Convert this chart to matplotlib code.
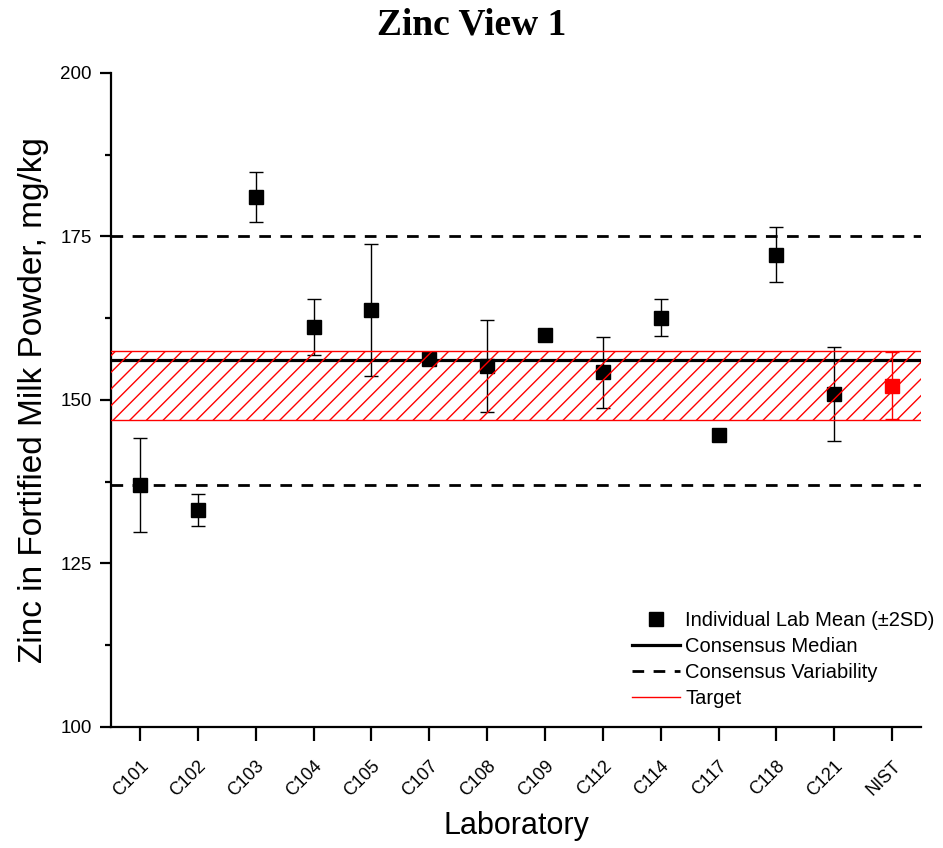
import matplotlib
matplotlib.use("Agg")
import matplotlib.pyplot as plt
from matplotlib.lines import Line2D
from matplotlib.ticker import MultipleLocator

labs = ["C101", "C102", "C103", "C104", "C105", "C107", "C108",
        "C109", "C112", "C114", "C117", "C118", "C121"]
lab_means = [137.0, 133.2, 181.0, 161.2, 163.8, 156.3, 155.2,
             159.9, 154.2, 162.6, 144.6, 172.2, 150.9]
lab_2sd = [7.2, 2.4, 3.8, 4.3, 10.1, 0.0, 7.0,
           0.0, 5.5, 2.8, 0.0, 4.2, 7.2]

nist_label = "NIST"
nist_value = 152.2
nist_2sd = 5.1
target_low = 146.9
target_high = 157.5

consensus_median = 156.1
consensus_low = 137.0
consensus_high = 175.0

fig = plt.figure(figsize=(9.43, 8.48), dpi=100)
ax = fig.add_axes([0.1177, 0.1427, 0.859, 0.7713])

x = list(range(len(labs)))
x_nist = len(labs)

# consensus lines
ax.axhline(consensus_median, color="black", lw=2.3, zorder=2)
for v in (consensus_low, consensus_high):
    ax.axhline(v, color="black", lw=2.0, ls=(0, (4.2, 3.4)), zorder=2)

# lab means with error bars
ax.errorbar(x, lab_means, yerr=lab_2sd, fmt="s", color="black",
            ms=10, elinewidth=1.0, capsize=5, capthick=1.0, zorder=3)
ax.errorbar([x_nist], [nist_value], yerr=[nist_2sd], fmt="s", color="red",
            ms=10, elinewidth=1.0, capsize=5, capthick=1.0, zorder=3)

# target band
ax.fill_between([-0.5, 13.5], target_low, target_high, facecolor="none",
                edgecolor="red", hatch="//", linewidth=0, zorder=4)
ax.axhline(target_low, color="red", lw=1.0, zorder=4)
ax.axhline(target_high, color="red", lw=1.0, zorder=4)

ax.set_xlim(-0.5, 13.5)
ax.set_ylim(100, 200)
ax.set_xticks(x + [x_nist])
ax.set_xticklabels(labs + [nist_label], rotation=45, ha="right",
                   rotation_mode="anchor", fontsize=13,
                   family="Liberation Sans")
ax.yaxis.set_major_locator(MultipleLocator(25))
ax.yaxis.set_minor_locator(MultipleLocator(12.5))
for lbl in ax.get_yticklabels():
    lbl.set_family("Liberation Sans")
    lbl.set_fontsize(13.5)

for side in ("top", "right"):
    ax.spines[side].set_visible(False)
for side in ("left", "bottom"):
    ax.spines[side].set_linewidth(1.6)
ax.tick_params(axis="x", which="major", length=10, width=1.6,
               direction="out", pad=12)
ax.tick_params(axis="y", which="major", length=8, width=1.6,
               direction="out", pad=6)
ax.tick_params(axis="y", which="minor", length=4.5, width=1.6,
               direction="out")

ax.set_ylabel("Zinc in Fortified Milk Powder, mg/kg", fontsize=24,
              family="Liberation Sans", labelpad=8)
ax.set_xlabel("Laboratory", fontsize=22, family="Liberation Sans",
              labelpad=8)
fig.text(0.5, 0.970, "Zinc View 1", fontsize=27, fontweight="bold",
         family="Liberation Serif", ha="center", va="center")

handles = [
    Line2D([], [], ls="none", marker="s", color="black", ms=10),
    Line2D([], [], color="black", lw=2.3),
    Line2D([], [], color="black", lw=2.0, ls=(0, (4.2, 3.4))),
    Line2D([], [], color="red", lw=1.0),
]
names = ["Individual Lab Mean (\u00b12SD)", "Consensus Median",
         "Consensus Variability", "Target"]
ax.legend(handles, names, loc="upper left",
          bbox_to_anchor=(0.670, 0.280), bbox_transform=fig.transFigure,
          frameon=False, prop={"family": "Liberation Sans", "size": 14.5},
          handlelength=2.4, handletextpad=0.25, labelspacing=0.35,
          borderpad=0, borderaxespad=0)

fig.savefig("out.png", dpi=100)
